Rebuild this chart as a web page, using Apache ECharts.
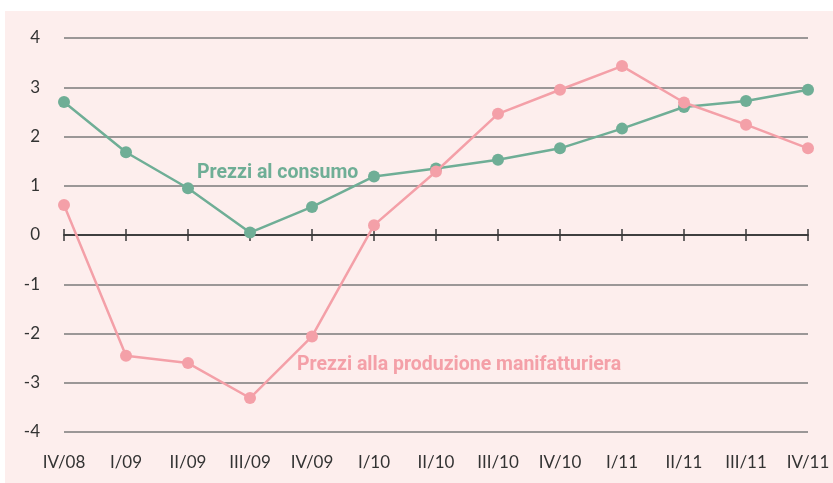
<!DOCTYPE html>
<html>
<head>
<meta charset="utf-8">
<script src="https://cdn.jsdelivr.net/npm/echarts@6/dist/echarts.min.js"></script>
<style>
  html, body { margin: 0; padding: 0; background: #ffffff; }
  #chart { width: 833px; height: 483px; }
</style>
</head>
<body>
<div id="chart"></div>
<script>
// trimestri
const quarters = ['IV/08', 'I/09', 'II/09', 'III/09', 'IV/09', 'I/10', 'II/10',
  'III/10', 'IV/10', 'I/11', 'II/11', 'III/11', 'IV/11']
// prezzi al consumo
const consumo = [2.7, 1.68, 0.95, 0.05, 0.57, 1.19, 1.35, 1.53, 1.76, 2.16, 2.6, 2.72, 2.95]
// prezzi alla produzione manifatturiera
const produzione = [0.61, -2.45, -2.6, -3.31, -2.06, 0.2, 1.29, 2.46, 2.95, 3.43, 2.69, 2.24, 1.76]
const yTicks = [-4, -3, -2, -1, 0, 1, 2, 3, 4]

const green = '#6fae96'
const pink = '#f4a0a8'
const font = 'Lato'
const grid = { left: 64, right: 25, top: 38, bottom: 51 }

const chart = echarts.init(document.getElementById('chart'))

// asse x sullo zero: tacche sopra e sotto (due griglie sovrapposte)
const tick = { show: true, alignWithLabel: true, length: 6, lineStyle: { color: '#3a3a3a', width: 1.5 } }
const yBase = {
  type: 'value',
  min: yTicks[0],
  max: yTicks[yTicks.length - 1],
  interval: 1,
  axisLine: { show: false },
  axisTick: { show: false }
}

chart.setOption({
  backgroundColor: '#ffffff',
  graphic: [
    { type: 'rect', z: -10, shape: { x: 5, y: 11, width: 828, height: 472 }, style: { fill: '#fdeeed' } },
    { type: 'text', z: 10,
      style: { x: 197, y: 173, verticalAlign: 'middle', text: 'Prezzi al consumo', fill: green, font: 'bold 19.5px Roboto' } },
    { type: 'text', z: 10,
      style: { x: 297, y: 365, verticalAlign: 'middle', text: 'Prezzi alla produzione manifatturiera', fill: pink, font: 'bold 19.5px Roboto' } }
  ],
  grid: [grid, grid],
  xAxis: [
    {
      gridIndex: 0, type: 'category', data: quarters, boundaryGap: false,
      position: 'bottom',
      axisLine: { onZero: true, lineStyle: { color: '#3a3a3a', width: 1.5 } },
      axisTick: tick,
      axisLabel: { color: '#333', fontFamily: font, fontSize: 17, margin: 22 }
    },
    {
      gridIndex: 1, type: 'category', data: quarters, boundaryGap: false,
      position: 'top',
      axisLine: { onZero: true, lineStyle: { color: '#3a3a3a', width: 1.5 } },
      axisTick: tick,
      axisLabel: { show: false }
    }
  ],
  yAxis: [
    Object.assign({}, yBase, {
      gridIndex: 0,
      axisLabel: { color: '#333', fontFamily: font, fontSize: 17, margin: 24 },
      splitLine: { lineStyle: { color: '#7a7a7a', width: 1.5 } }
    }),
    Object.assign({}, yBase, {
      gridIndex: 1,
      axisLabel: { show: false },
      splitLine: { show: false }
    })
  ],
  series: [
    {
      name: 'Prezzi al consumo',
      type: 'line',
      data: consumo,
      symbol: 'circle',
      symbolSize: 12,
      lineStyle: { color: green, width: 2.5 },
      itemStyle: { color: green },
      z: 3
    },
    {
      name: 'Prezzi alla produzione manifatturiera',
      type: 'line',
      data: produzione,
      symbol: 'circle',
      symbolSize: 12,
      lineStyle: { color: pink, width: 2.5 },
      itemStyle: { color: pink },
      z: 4
    }
  ],
  animation: false
})
</script>
</body>
</html>
